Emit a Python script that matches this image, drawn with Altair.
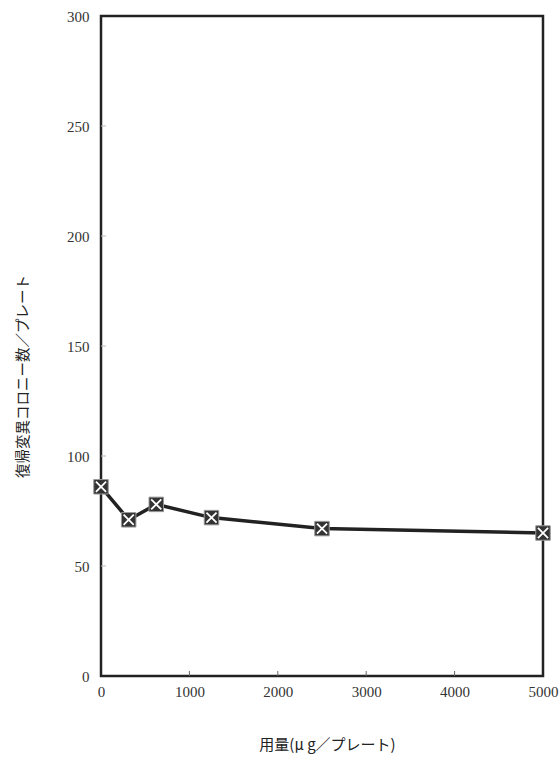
import altair as alt
import pandas as pd

# Dose (µg/plate) and revertant colonies per plate
doses = [0, 313, 625, 1250, 2500, 5000]
colonies = [86, 71, 78, 72, 67, 65]
x_ticks = [0, 1000, 2000, 3000, 4000, 5000]
y_ticks = [0, 50, 100, 150, 200, 250, 300]

df = pd.DataFrame({"dose": doses, "colonies": colonies})
tick_df = pd.DataFrame({"t": x_ticks[1:-1]})
ytick_df = pd.DataFrame({"t": y_ticks[1:-1]})

label_font = "Liberation Serif"
cjk_font = "Noto Sans CJK JP"

x_enc = alt.X(
    "dose:Q",
    scale=alt.Scale(domain=[0, 5000], nice=False, zero=False),
    axis=alt.Axis(
        values=x_ticks, title="用量(μ g／プレート)", grid=False, domain=False, ticks=False,
        labelFont=label_font, labelFontSize=15, labelColor="#333", labelPadding=8,
        labelFlush=False,
        titleFont=cjk_font, titleFontSize=15, titleFontWeight="normal", titleColor="#222",
        titlePadding=38, titleX=226, format="d",
    ),
)
y_enc = alt.Y(
    "colonies:Q",
    scale=alt.Scale(domain=[0, 300], nice=False),
    axis=alt.Axis(
        values=y_ticks, title="復帰変異コロニー数／プレート", grid=False, domain=False, ticks=False,
        labelFont=label_font, labelFontSize=15, labelColor="#333", labelPadding=12,
        labelFlush=False,
        titleFont=cjk_font, titleFontSize=14.5, titleFontWeight="normal", titleColor="#222",
        titleX=-71, titleY=360,
    ),
)

base = alt.Chart(df)

line = base.mark_line(color="#222", strokeWidth=3.5).encode(x=x_enc, y=y_enc)
boxes = base.mark_point(
    shape="square", filled=True, size=210, color="#333", stroke="#999", strokeWidth=1, opacity=1
).encode(x="dose:Q", y="colonies:Q")
crosses = base.mark_point(
    shape="M-0.7,-0.7L0.7,0.7M-0.7,0.7L0.7,-0.7", size=210, color="white", strokeWidth=1.8, opacity=1
).encode(x="dose:Q", y="colonies:Q")

xticks = alt.Chart(tick_df).mark_rule(color="#666", strokeWidth=1).encode(
    x="t:Q", y=alt.value(660), y2=alt.value(655)
)
yticks = alt.Chart(ytick_df).mark_rule(color="#bbb", strokeWidth=1).encode(
    y="t:Q", x=alt.value(0), x2=alt.value(5)
)

chart = (
    alt.layer(xticks, yticks, line, boxes, crosses)
    .properties(
        width=442,
        height=660,
        autosize=alt.AutoSizeParams(type="none"),
        padding={"left": 101, "top": 16, "right": 17, "bottom": 95},
        background="white",
    )
    .configure_view(stroke="#222", strokeWidth=2.5)
)

chart.save("out.html", embed_options={"renderer": "svg", "actions": False})
